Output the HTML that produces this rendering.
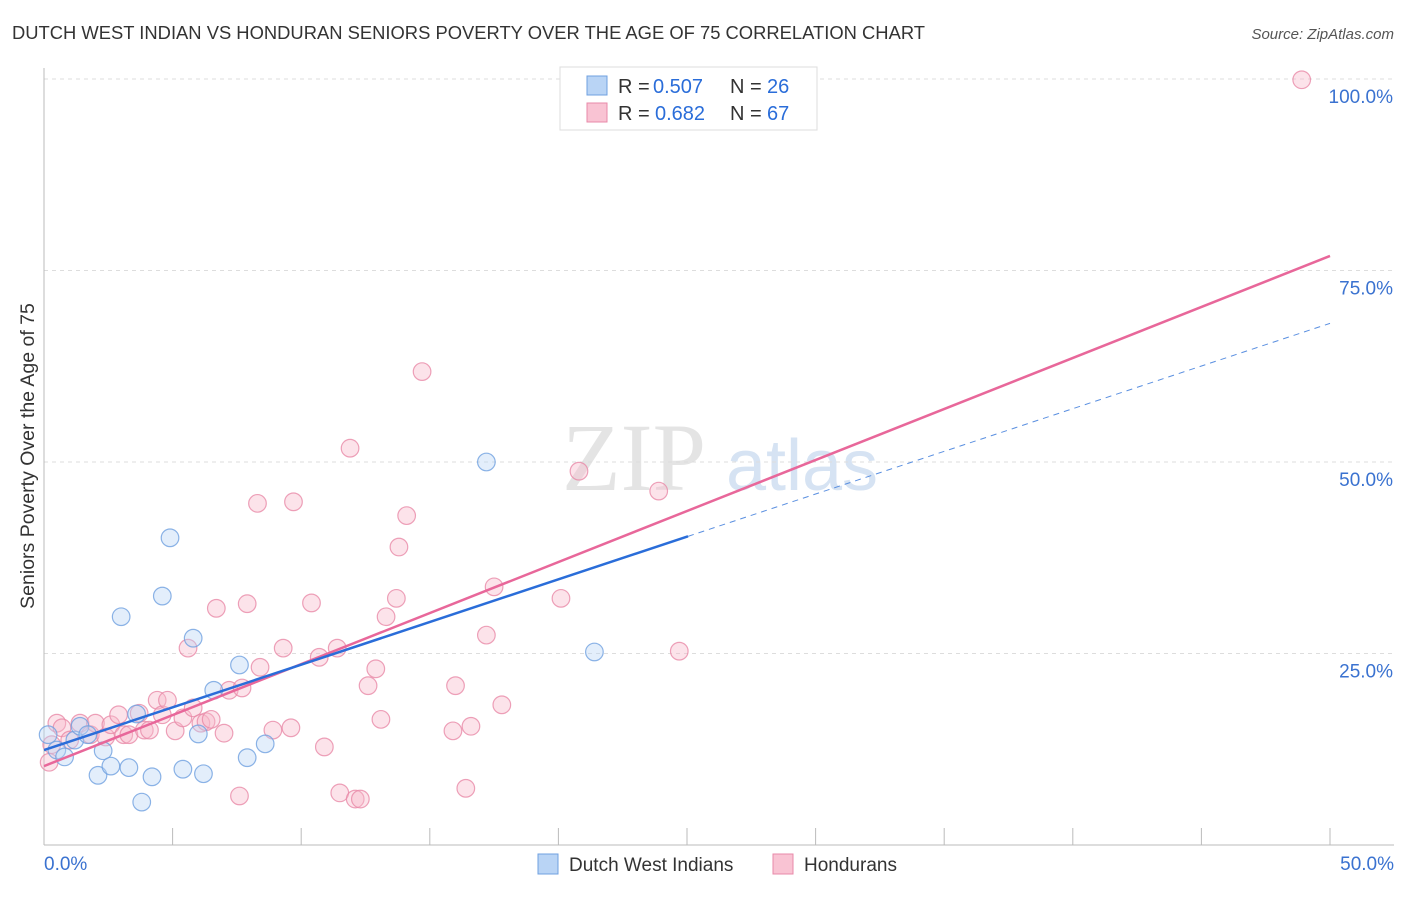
<!DOCTYPE html>
<html><head><meta charset="utf-8"><style>
body{margin:0;background:#fff;font-family:"Liberation Sans",sans-serif}
#c{position:relative;width:1406px;height:892px}
</style></head><body>
<div id="c">
<svg id="s" width="1406" height="892" xmlns="http://www.w3.org/2000/svg">
<text x="12" y="39" font-size="18" fill="#333" textLength="913" lengthAdjust="spacingAndGlyphs">DUTCH WEST INDIAN VS HONDURAN SENIORS POVERTY OVER THE AGE OF 75 CORRELATION CHART</text>
<text x="1394" y="39" font-size="15" fill="#555" font-style="italic" text-anchor="end">Source: ZipAtlas.com</text>
<text x="634" y="490" font-size="96" fill="#e4e4e4" font-family="Liberation Serif" text-anchor="middle">ZIP</text>
<text x="802" y="490" font-size="72" fill="#d6e3f3" text-anchor="middle">atlas</text>
<text transform="translate(34,456) rotate(-90)" font-size="19.5" fill="#333" text-anchor="middle">Seniors Poverty Over the Age of 75</text>
<g id="grid"></g><g id="pts"></g><g id="lines"></g>
<g>
<rect x="560" y="67" width="257" height="63" fill="#fff" stroke="#ddd"/>
<rect x="587" y="76" width="20" height="19" fill="#b9d4f5" stroke="#6fa0e0"/>
<rect x="587" y="103" width="20" height="19" fill="#f9c3d3" stroke="#e88aa8"/>
<text x="618" y="93" font-size="20" fill="#333">R =</text>
<text x="653" y="93" font-size="20" fill="#2a6dd9">0.507</text>
<text x="730" y="93" font-size="20" fill="#333">N =</text>
<text x="767" y="93" font-size="20" fill="#2a6dd9">26</text>
<text x="618" y="120" font-size="20" fill="#333">R =</text>
<text x="655" y="120" font-size="20" fill="#2a6dd9">0.682</text>
<text x="730" y="120" font-size="20" fill="#333">N =</text>
<text x="767" y="120" font-size="20" fill="#2a6dd9">67</text>
</g>
<g>
<rect x="538" y="854" width="20" height="20" fill="#b9d4f5" stroke="#6fa0e0"/>
<text x="569" y="871" font-size="19" fill="#333">Dutch West Indians</text>
<rect x="773" y="854" width="20" height="20" fill="#f9c3d3" stroke="#e88aa8"/>
<text x="804" y="871" font-size="19" fill="#333">Hondurans</text>
</g>
</svg></div>
<script>
const blueX=[0.16,0.5,0.8,1.2,1.4,1.7,2.1,2.3,2.6,3.0,3.3,3.6,3.8,4.2,4.6,4.9,5.4,5.8,6.0,6.2,6.6,7.6,7.9,8.6,17.2,21.4];
const blueY=[14.4,12.4,11.5,13.7,15.5,14.4,9.1,12.3,10.3,29.8,10.1,17.1,5.6,8.9,32.5,40.1,9.9,27.0,14.5,9.3,20.2,23.5,11.4,13.2,50.0,25.2];
const pinkX=[0.2,0.3,0.5,0.7,1.0,1.4,1.8,2.0,2.4,2.6,2.9,3.1,3.3,3.7,3.9,4.1,4.4,4.6,4.8,5.1,5.4,5.6,5.8,6.1,6.3,6.5,6.7,7.0,7.2,7.6,7.7,7.9,8.3,8.4,8.9,9.3,9.6,9.7,10.4,10.7,10.9,11.4,11.5,11.9,12.1,12.3,12.6,12.9,13.1,13.3,13.7,13.8,14.1,14.7,15.9,16.0,16.4,16.6,17.2,17.5,17.8,20.1,20.8,23.9,24.7,48.9];
const pinkY=[10.8,13.1,15.9,15.3,13.7,15.9,14.4,15.9,14.1,15.7,17.0,14.4,14.4,17.2,15.0,15.0,18.9,17.0,18.9,14.9,16.6,25.7,17.9,15.9,16.1,16.4,30.9,14.6,20.2,6.4,20.5,31.5,44.6,23.2,15.0,25.7,15.3,44.8,31.6,24.5,12.8,25.7,6.8,51.8,6.0,6.0,20.8,23.0,16.4,29.8,32.2,38.9,43.0,61.8,14.9,20.8,7.4,15.5,27.4,33.7,18.3,32.2,48.8,46.2,25.3,99.9];
const yTicks=[25,50,75,100];
const yTickLabels=["25.0%","50.0%","75.0%","100.0%"];
const xTickLabels=["0.0%","50.0%"];
const blueLine=[12.4,1.114,25.04];
const pinkLine=[10.3,1.332];
const NS="http://www.w3.org/2000/svg";
const X=v=>44+v/50*1286, Y=v=>845-v*7.66;
function mk(t,a,p){const e=document.createElementNS(NS,t);for(const k in a)e.setAttribute(k,a[k]);p.appendChild(e);return e;}
const g=document.getElementById('grid');
yTicks.forEach((t,i)=>{
 const l=mk('line',{x1:44,x2:1394,y1:Y(t),y2:Y(t),stroke:'#ddd','stroke-dasharray':'4,4'},g);
 
 
 const tx=mk('text',{x:1393,y:Y(t)+24,'font-size':19,fill:'#3a72d0','text-anchor':'end'},g);tx.textContent=yTickLabels[i];
 
 
});
const ax=mk('line',{x1:44,x2:44,y1:68,y2:845,stroke:'#bbb'},g);


const bx=mk('line',{x1:44,x2:1394,y1:845,y2:845,stroke:'#bbb'},g);


for(let i=1;i<=10;i++){const t=mk('line',{x1:X(i*5),x2:X(i*5),y1:828,y2:845,stroke:'#bbb'},g);
 
 }
[[0,44,'start'],[50,1394,'end']].forEach((d,i)=>{const t=mk('text',{x:d[1],y:870,'font-size':19,fill:'#3a72d0','text-anchor':d[2]},g);t.textContent=xTickLabels[i];
 
 });
const p=document.getElementById('pts');
function pts(xs,ys,f,s,n){xs.forEach((x,i)=>{const c=mk('circle',{cx:X(x),cy:Y(ys[i]),r:8.8,fill:f,'fill-opacity':0.4,stroke:s,'stroke-opacity':0.8,'stroke-width':1.2},p);
 
 });}
pts(pinkX,pinkY,'#f7b8cb','#e88aa8','honduran-point');
pts(blueX,blueY,'#b9d4f5','#6fa0e0','dutch-west-indian-point');
const L=document.getElementById('lines');
const pl=mk('line',{x1:X(0),y1:Y(pinkLine[0]),x2:X(50),y2:Y(pinkLine[0]+pinkLine[1]*50),stroke:'#e8679a','stroke-width':2.5},L);


const b1=mk('line',{x1:X(0),y1:Y(blueLine[0]),x2:X(blueLine[2]),y2:Y(blueLine[0]+blueLine[1]*blueLine[2]),stroke:'#2a6dd9','stroke-width':2.5},L);


const b2=mk('line',{x1:X(blueLine[2]),y1:Y(blueLine[0]+blueLine[1]*blueLine[2]),x2:X(50),y2:Y(blueLine[0]+blueLine[1]*50),stroke:'#5a8fe0','stroke-width':1,'stroke-dasharray':'6,5'},L);


</script></body></html>
